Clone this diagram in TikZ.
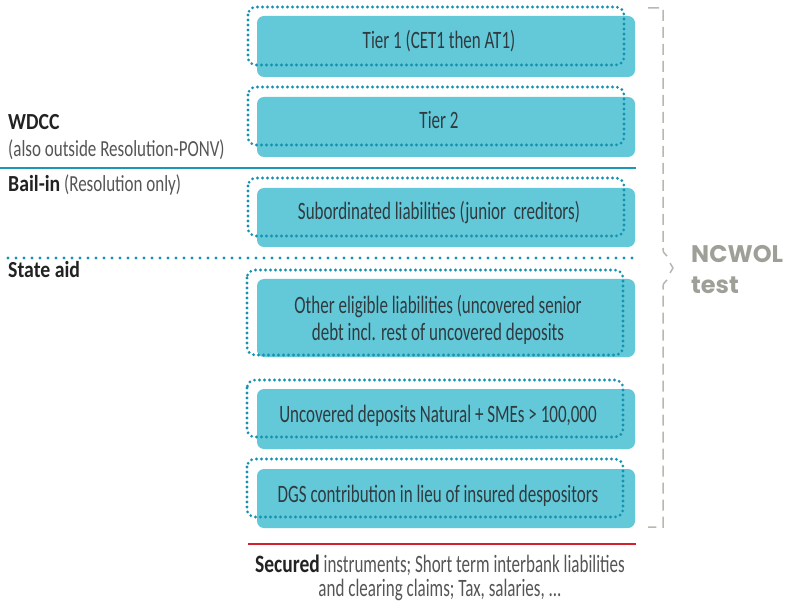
\documentclass[tikz,border=0pt]{standalone}
\usepackage{fontspec}
\setmainfont{Carlito}[FakeStretch=0.68, BoldFeatures={FakeStretch=0.78}]
\newfontfamily\sidefont{Carlito}[FakeStretch=0.74, BoldFeatures={FakeStretch=0.86}]
\newfontfamily\ncwolfont{Poppins}
\usepackage{tikz}
\usetikzlibrary{positioning}

\definecolor{tierfill}{HTML}{63C8D8}
\definecolor{tierdots}{HTML}{1592B0}
\definecolor{tierline}{HTML}{1A98B6}
\definecolor{tiertext}{HTML}{2F3B40}
\definecolor{labelgray}{HTML}{555555}
\definecolor{labeldark}{HTML}{222222}
\definecolor{securedred}{HTML}{D2202F}
\definecolor{bracketgray}{HTML}{B8B8B1}
\definecolor{ncwolgray}{HTML}{9EA098}

\tikzset{
    tierbox/.style={fill=tierfill, rounded corners=7pt, minimum width=378pt, inner sep=0pt},
    dotbox/.style={draw=tierdots, line width=3.1pt, dash pattern=on 0pt off 5pt, line cap=round, rounded corners=8pt},
    tiertext/.style={anchor=base, text=tiertext, font=\fontsize{25}{30}\selectfont, inner sep=0pt},
    sidelabel/.style={anchor=base west, text=labelgray, font=\sidefont\fontsize{23}{27}\selectfont, inner sep=0pt},
    bracket/.style={draw=bracketgray, line width=1.5pt, dash pattern=on 11pt off 6pt},
    ncwol/.style={anchor=base west, text=ncwolgray, font=\ncwolfont\bfseries\fontsize{24}{28}\selectfont, inner sep=0pt}
}

\begin{document}
\begin{tikzpicture}[x=1pt, y=-1pt]
    \useasboundingbox (0,0) rectangle (797,601);

    % filled tiers
    \node[tierbox, minimum height=61pt] (tier1) at (446,46.5) {};
    \node[tierbox, minimum height=60pt] (tier2) at (446,127) {};
    \node[tierbox, minimum height=59pt] (subord) at (446,217.5) {};
    \node[tierbox, minimum height=78pt] (eligible) at (446,318) {};
    \node[tierbox, minimum height=60pt] (uncovered) at (446,419) {};
    \node[tierbox, minimum height=59pt] (dgs) at (446,498.5) {};

    % dotted outlines
    \draw[dotbox] (248,7) rectangle (624,65);
    \draw[dotbox] (248,87) rectangle (624,145);
    \draw[dotbox] (248,178) rectangle (624,236);
    \draw[dotbox] (247,270) rectangle (623,355);
    \draw[dotbox] (247,380) rectangle (623,437);
    \draw[dotbox] (247,459) rectangle (623,517);

    % tier texts
    \node[tiertext] (tier1txt) at (439,49) {Tier 1 (CET1 then AT1)};
    \node[tiertext] (tier2txt) at (439,129) {Tier 2};
    \node[tiertext] (subordtxt) at (439,220) {Subordinated liabilities (junior\ \ creditors)};
    \node[tiertext] (eligibletxt) at (438,313) {Other eligible liabilities (uncovered senior};
    \node[tiertext] (eligibletxtb) at (438,340) {debt incl. rest of uncovered deposits};
    \node[tiertext] (uncoveredtxt) at (438,422) {Uncovered deposits Natural + SMEs > 100,000};
    \node[tiertext] (dgstxt) at (438,502) {DGS contribution in lieu of insured despositors};

    % separators
    \coordinate (wdccleft) at (0,168);
    \coordinate (wdccright) at (636,168);
    \draw[tierline, line width=2.5pt] (wdccleft) -- (wdccright);
    \coordinate (aidleft) at (8,258);
    \coordinate (aidright) at (637,258);
    \draw[tierdots, line width=3.1pt, dash pattern=on 0pt off 8pt, line cap=round] (aidleft) -- (aidright);
    \coordinate (securedleft) at (248,544);
    \coordinate (securedright) at (636,544);
    \draw[securedred, line width=2.5pt] (securedleft) -- (securedright);

    % left labels
    \node[sidelabel, text=labeldark] (wdcc) at (8,130) {\bfseries WDCC};
    \node[sidelabel] (wdccnote) at (8,157) {(also outside Resolution-PONV)};
    \node[sidelabel] (bailin) at (8,192) {\textcolor{labeldark}{\bfseries Bail-in} (Resolution only)};
    \node[sidelabel, text=labeldark] (stateaid) at (8,278) {\bfseries State aid};

    % secured instruments
    \node[tiertext, text=labelgray] (secured) at (440,572) {\textcolor{labeldark}{\bfseries Secured} instruments; Short term interbank liabilities};
    \node[tiertext, text=labelgray] (securedb) at (440,596) {and clearing claims; Tax, salaries, ...};

    % NCWOL bracket
    \draw[bracket] (648,8) -- (663,8) -- (663,248) .. controls (663,252) .. (667,256);
    \draw[bracket, solid] (670,263) -- (673,268) -- (670,273);
    \draw[bracket] (667,280) .. controls (663,284) .. (663,288) -- (663,527) -- (648,527);
    \node[ncwol] (ncwol) at (691,263) {NCWOL};
    \node[ncwol] (ncwoltest) at (691,294) {test};
\end{tikzpicture}
\end{document}
